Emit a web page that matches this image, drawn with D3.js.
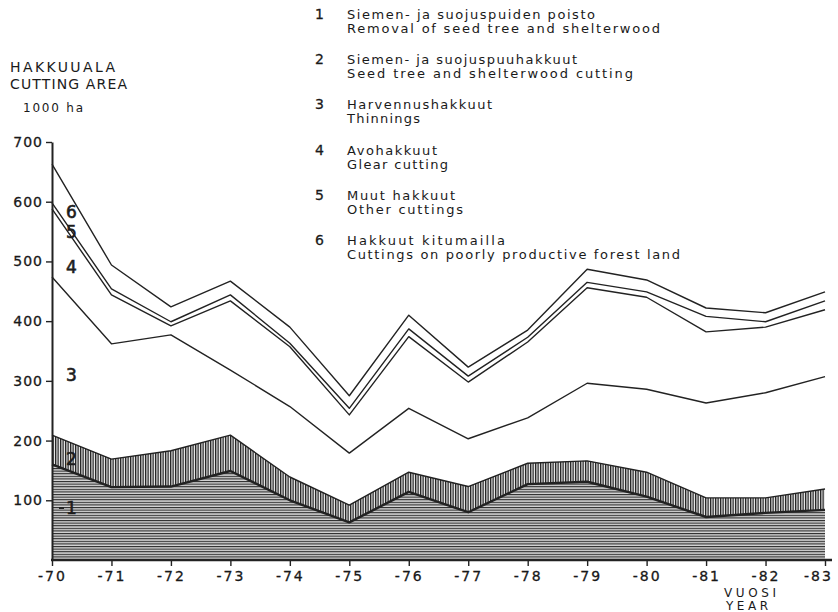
<!DOCTYPE html>
<html>
<head>
<meta charset="utf-8">
<script src="https://cdn.jsdelivr.net/npm/d3@7"></script>
<style>
  html, body { margin: 0; padding: 0; background: #fff; }
  svg { display: block; }
  text { font-family: "DejaVu Sans", "Liberation Sans", sans-serif; fill: #1a1a1a; }
</style>
</head>
<body>
<svg id="chart" width="838" height="612"></svg>
<script>
// Cutting area by cutting method, 1000 ha, years 1970–1983
const years = ["-70", "-71", "-72", "-73", "-74", "-75", "-76", "-77", "-78", "-79", "-80", "-81", "-82", "-83"];
const removal    = [160, 122, 123, 149, 100, 63, 114, 80, 127, 131, 106, 72, 79, 84];
const seedTree   = [49, 47, 60, 60, 39, 29, 33, 43, 35, 35, 41, 32, 25, 35];
const thinnings  = [265, 193, 194, 109, 118, 87, 107, 80, 76, 130, 139, 159, 176, 188];
const clearCut   = [114, 82, 15, 116, 100, 64, 120, 95, 127, 160, 154, 119, 110, 112];
const otherCut   = [10, 10, 7, 10, 6, 11, 13, 10, 8, 9, 9, 26, 9, 15];
const poorLand   = [65, 40, 25, 23, 27, 21, 23, 15, 12, 22, 20, 14, 15, 15];
const yTicks = [100, 200, 300, 400, 500, 600, 700];

const legendItems = [
  ["1", "Siemen- ja suojuspuiden poisto", "Removal of seed tree and shelterwood"],
  ["2", "Siemen- ja suojuspuuhakkuut", "Seed tree and shelterwood cutting"],
  ["3", "Harvennushakkuut", "Thinnings"],
  ["4", "Avohakkuut", "Glear cutting"],
  ["5", "Muut hakkuut", "Other cuttings"],
  ["6", "Hakkuut kitumailla", "Cuttings on poorly productive forest land"]
];
const legendWidths = [[248, 313], [230, 286], [145, 73], [90, 101], [108, 116], [158, 333]];

const seriesKeys = ["removal", "seedTree", "thinnings", "clearCut", "otherCut", "poorLand"];
const seriesData = { removal, seedTree, thinnings, clearCut, otherCut, poorLand };
const rows = years.map((yr, i) => {
  const r = { year: yr };
  seriesKeys.forEach(k => r[k] = seriesData[k][i]);
  return r;
});

const svg = d3.select("#chart");
const ink = "#222";

const x = d3.scalePoint().domain(years).range([52, 825]);
const y = d3.scaleLinear().domain([0, 700]).range([560, 142]);

// hatch patterns: horizontal for layer 1, vertical for layer 2
const defs = svg.append("defs");
const ph = defs.append("pattern").attr("id", "hatchH").attr("patternUnits", "userSpaceOnUse")
  .attr("width", 8).attr("height", 2.6);
ph.append("rect").attr("width", 8).attr("height", 2.6).attr("fill", "#d6d6d6");
ph.append("rect").attr("y", 0).attr("width", 8).attr("height", 1.1).attr("fill", "#2a2a2a");
const pv = defs.append("pattern").attr("id", "hatchV").attr("patternUnits", "userSpaceOnUse")
  .attr("width", 2.5).attr("height", 8);
pv.append("rect").attr("width", 2.5).attr("height", 8).attr("fill", "#f2f2f2");
pv.append("rect").attr("x", 0).attr("width", 1.3).attr("height", 8).attr("fill", "#1e1e1e");

const stacked = d3.stack().keys(seriesKeys)(rows);
const fills = ["url(#hatchH)", "url(#hatchV)", "none", "none", "none", "none"];

const area = d3.area()
  .x(d => x(d.data.year))
  .y0(d => y(d[0]))
  .y1(d => y(d[1]));
const topLine = d3.line()
  .x(d => x(d.data.year))
  .y(d => y(d[1]));

svg.append("g").selectAll("path.area")
  .data(stacked.slice(0, 2))
  .join("path")
  .attr("class", "area")
  .attr("d", area)
  .attr("fill", (d, i) => fills[i]);

svg.append("g").selectAll("path.top")
  .data(stacked)
  .join("path")
  .attr("class", "top")
  .attr("d", topLine)
  .attr("fill", "none")
  .attr("stroke", ink)
  .attr("stroke-width", (d, i) => i === 0 ? 2.4 : 1.4)
  .attr("stroke-linejoin", "round");

// y axis
const yAxis = svg.append("g")
  .attr("transform", "translate(52,0)")
  .call(d3.axisLeft(y).tickValues(yTicks).tickSize(6).tickSizeOuter(0).tickPadding(3));
yAxis.select(".domain").attr("stroke", ink).attr("stroke-width", 2);
yAxis.selectAll(".tick line").attr("stroke", ink).attr("stroke-width", 1.4);
yAxis.selectAll(".tick text")
  .attr("font-size", 14).attr("font-family", "DejaVu Sans").attr("fill", "#151515")
  .attr("stroke", "#151515").attr("stroke-width", 0.3)
  .attr("letter-spacing", 1);

// x axis
const xAxis = svg.append("g")
  .attr("transform", "translate(0,560)")
  .call(d3.axisBottom(x).tickSize(6).tickSizeOuter(0).tickPadding(5));
xAxis.select(".domain").remove();
xAxis.selectAll(".tick line").attr("stroke", ink).attr("stroke-width", 1.4);
xAxis.selectAll(".tick text")
  .attr("font-size", 14).attr("font-family", "DejaVu Sans").attr("fill", "#151515")
  .attr("stroke", "#151515").attr("stroke-width", 0.3)
  .attr("letter-spacing", 2)
  .attr("dx", (d, i) => i === years.length - 1 ? -7 : 0);
svg.append("line")
  .attr("x1", 51).attr("x2", 832).attr("y1", 560).attr("y2", 560)
  .attr("stroke", ink).attr("stroke-width", 2.4);

// axis titles
svg.append("text").attr("x", 10).attr("y", 72).attr("font-size", 14)
  .attr("textLength", 105).attr("lengthAdjust", "spacing").text("HAKKUUALA");
svg.append("text").attr("x", 10).attr("y", 89).attr("font-size", 14)
  .attr("textLength", 117).attr("lengthAdjust", "spacing").text("CUTTING AREA");
svg.append("text").attr("x", 23).attr("y", 112).attr("font-size", 12)
  .attr("textLength", 60).attr("lengthAdjust", "spacing").text("1000 ha");
svg.append("text").attr("x", 724).attr("y", 597).attr("font-size", 12)
  .attr("textLength", 52).attr("lengthAdjust", "spacing").text("VUOSI");
svg.append("text").attr("x", 726).attr("y", 610).attr("font-size", 12)
  .attr("textLength", 42).attr("lengthAdjust", "spacing").text("YEAR");

// layer numbers inside the chart
const layerLabels = [
  { t: "6", x: 66, y: 218 },
  { t: "5", x: 66, y: 238 },
  { t: "4", x: 66, y: 273 },
  { t: "3", x: 66, y: 381 },
  { t: "2", x: 66, y: 465 },
  { t: "1", x: 66, y: 514 }
];
svg.append("g").selectAll("text")
  .data(layerLabels)
  .join("text")
  .attr("x", d => d.x).attr("y", d => d.y)
  .attr("font-size", 17).attr("fill", "#222")
  .attr("stroke", "#222").attr("stroke-width", 0.6)
  .text(d => d.t);
svg.append("line").attr("x1", 59).attr("x2", 64).attr("y1", 508).attr("y2", 508)
  .attr("stroke", "#222").attr("stroke-width", 2);

// legend
const legend = svg.append("g");
legendItems.forEach((it, i) => {
  const by = 19 + i * 45.2;
  legend.append("text").attr("x", 315).attr("y", by).attr("font-size", 14)
    .attr("stroke", "#1a1a1a").attr("stroke-width", 0.3).text(it[0]);
  legend.append("text").attr("x", 347).attr("y", by).attr("font-size", 13)
    .attr("textLength", legendWidths[i][0]).attr("lengthAdjust", "spacing").text(it[1]);
  legend.append("text").attr("x", 347).attr("y", by + 14).attr("font-size", 13)
    .attr("textLength", legendWidths[i][1]).attr("lengthAdjust", "spacing").text(it[2]);
});
</script>
</body>
</html>
